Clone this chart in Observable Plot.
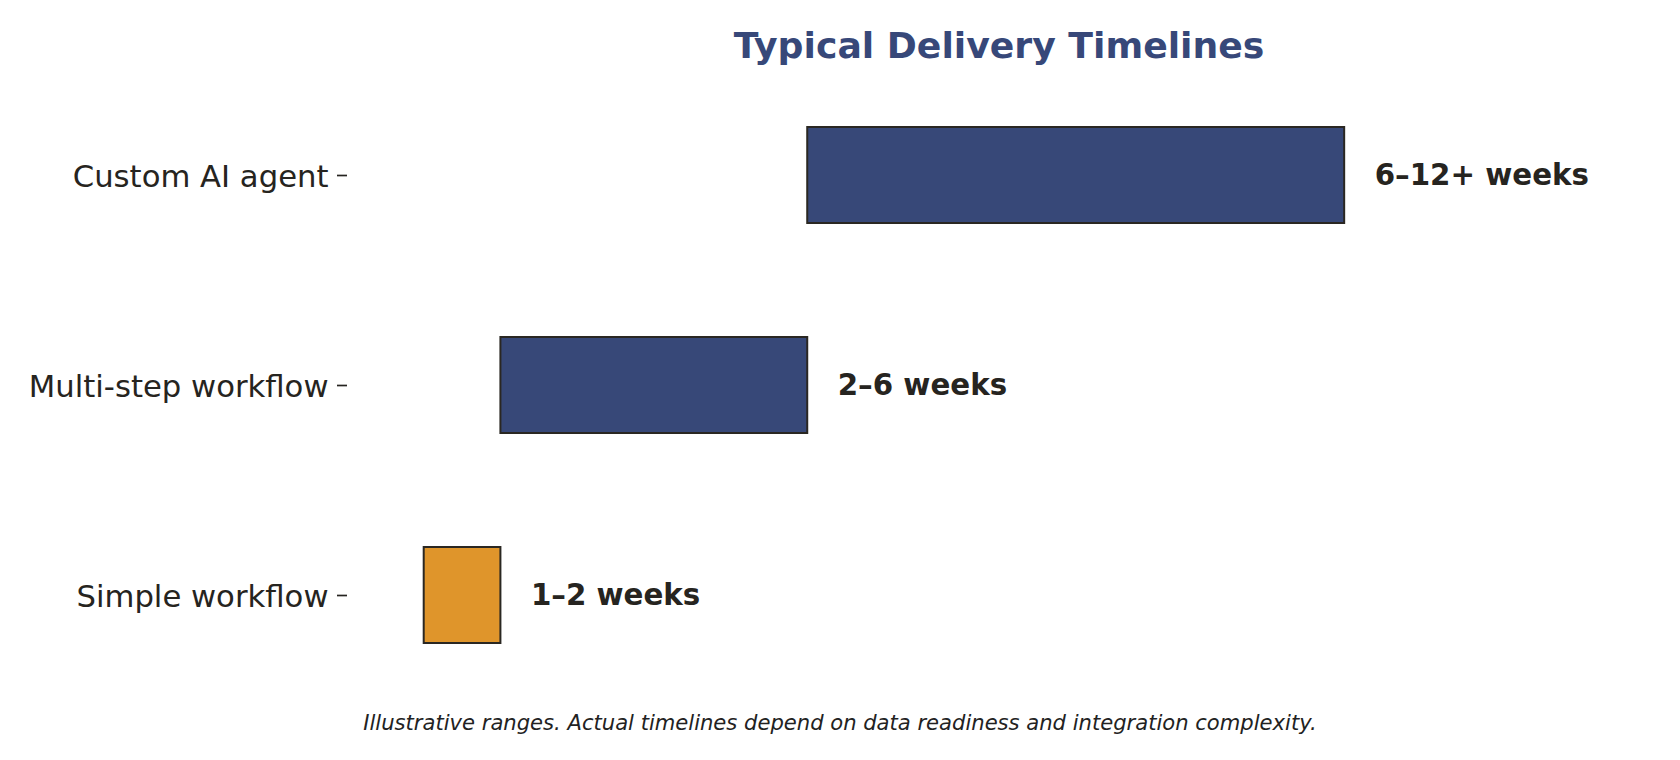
<!DOCTYPE html>
<html>
<head>
<meta charset="utf-8">
<script src="https://cdn.jsdelivr.net/npm/d3@7"></script>
<script src="https://cdn.jsdelivr.net/npm/@observablehq/plot@0.6"></script>
<style>
  html, body { margin: 0; padding: 0; background: #fff; }
  #wrap { position: relative; width: 1680px; height: 760px; font-family: "DejaVu Sans", sans-serif; }
  #title { position: absolute; top: 0; left: 347px; width: 1304px; height: 92px; line-height: 92px;
           text-align: center; font-weight: bold; font-size: 36.2px; color: #374879; white-space: nowrap; }
  #chart { position: absolute; top: 92px; left: 0; }
  #caption { position: absolute; top: 692px; left: 0; width: 1680px; height: 62px; line-height: 62px;
             text-align: center; font-style: italic; font-size: 21.1px; color: #222; white-space: nowrap; }
</style>
</head>
<body>
<div id="wrap">
  <div id="title">Typical Delivery Timelines</div>
  <div id="chart"></div>
  <div id="caption">Illustrative ranges. Actual timelines depend on data readiness and integration complexity.</div>
</div>
<script>
const tasks = ["Custom AI agent", "Multi-step workflow", "Simple workflow"];
const startWeeks = [6, 2, 1];
const endWeeks = [13, 6, 2];
const rangeLabels = ["6–12+ weeks", "2–6 weeks", "1–2 weeks"];
const groups = ["standard", "standard", "quick"];

const data = tasks.map((t, i) => ({
  task: t, start: startWeeks[i], end: endWeeks[i], label: rangeLabels[i], group: groups[i]
}));

const chart = Plot.plot({
  width: 1680,
  height: 600,
  marginLeft: 347,
  marginRight: 29,
  marginTop: 34,
  marginBottom: 49,
  style: { fontFamily: "DejaVu Sans, sans-serif", fontSize: "30.7px", color: "#262420", background: "#fff" },
  x: { domain: [0, 17], axis: null },
  y: { domain: tasks, paddingInner: 0.544, paddingOuter: 0, axis: null },
  color: { domain: ["standard", "quick"], range: ["#374878", "#DF952B"] },
  marks: [
    Plot.axisY({ tickSize: 10, strokeWidth: 1.7, text: null, label: null }),
    Plot.axisY({ tickSize: 0, tickPadding: 19, label: null, dy: 2 }),
    Plot.barX(data, { x1: "start", x2: "end", y: "task", fill: "group", stroke: "#2a2722", strokeWidth: 2 }),
    Plot.text(data, { x: "end", y: "task", text: "label", dx: 30, textAnchor: "start",
      fontWeight: "bold", fontSize: 29.3, fill: "#262420" })
  ]
});
document.getElementById("chart").appendChild(chart);
</script>
</body>
</html>
